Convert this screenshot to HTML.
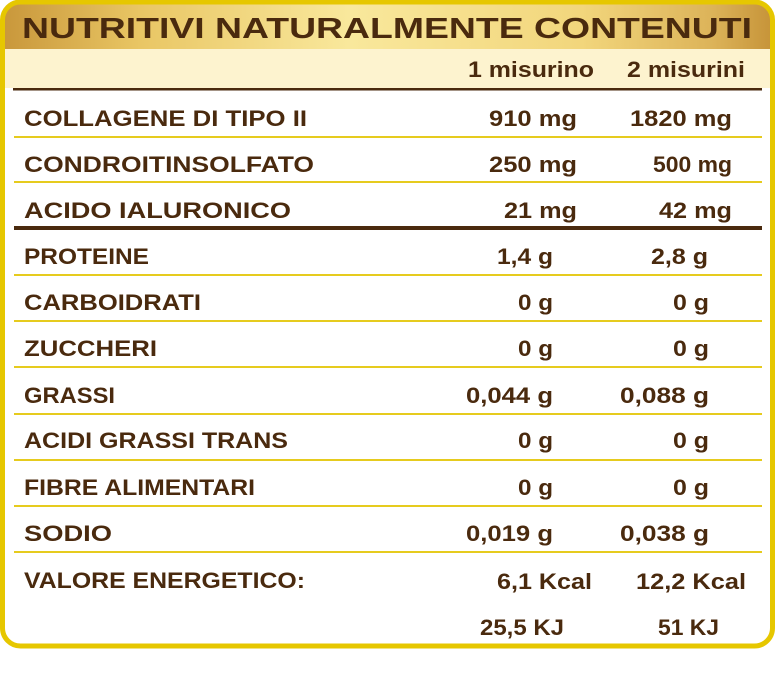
<!DOCTYPE html>
<html>
<head>
<meta charset="utf-8">
<style>
  html,body{margin:0;padding:0;background:#ffffff;}
  body{width:775px;height:699px;overflow:hidden;}
  svg{display:block;}
  text{font-family:"Liberation Sans", Arial, sans-serif;font-weight:bold;fill:#4a2a0e;}
</style>
</head>
<body>
<svg width="775" height="699" viewBox="0 0 775 699" xmlns="http://www.w3.org/2000/svg">
  <defs>
    <linearGradient id="gold" x1="0" y1="0" x2="1" y2="0">
      <stop offset="0" stop-color="#c8963a"/>
      <stop offset="0.18" stop-color="#e9c664"/>
      <stop offset="0.45" stop-color="#f9e89c"/>
      <stop offset="0.75" stop-color="#f2d67c"/>
      <stop offset="0.92" stop-color="#dcb359"/>
      <stop offset="1" stop-color="#c59237"/>
    </linearGradient>
    <clipPath id="box">
      <rect x="2.5" y="2" width="770" height="644" rx="18" ry="18"/>
    </clipPath>
  </defs>

  <rect x="2.5" y="2" width="770" height="644" rx="18" ry="18" fill="#ffffff"/>
  <g clip-path="url(#box)">
    <rect x="0" y="0" width="775" height="49" fill="url(#gold)"/>
    <rect x="0" y="49" width="775" height="39" fill="#fdf3cf"/>
  </g>
  <rect x="2.5" y="2" width="770" height="644" rx="18" ry="18" fill="none" stroke="#e6c700" stroke-width="5"/>

  <!-- title -->
  <text x="22" y="38" font-size="29" textLength="730" lengthAdjust="spacingAndGlyphs">NUTRITIVI NATURALMENTE CONTENUTI</text>

  <!-- header -->
  <text x="468" y="77" font-size="22" textLength="126" lengthAdjust="spacingAndGlyphs">1 misurino</text>
  <text x="627" y="77" font-size="22" textLength="118" lengthAdjust="spacingAndGlyphs">2 misurini</text>

  <!-- lines -->
  <rect x="13" y="88" width="749" height="2.5" fill="#4a2a0e"/>
  <g fill="#e6cb1e">
    <rect x="14" y="136" width="748" height="2"/>
    <rect x="14" y="181" width="748" height="2"/>
    <rect x="14" y="274" width="748" height="2"/>
    <rect x="14" y="320" width="748" height="2"/>
    <rect x="14" y="366" width="748" height="2"/>
    <rect x="14" y="413" width="748" height="2"/>
    <rect x="14" y="459" width="748" height="2"/>
    <rect x="14" y="505" width="748" height="2"/>
    <rect x="14" y="551" width="748" height="2"/>
  </g>
  <rect x="14" y="226" width="748" height="4" fill="#4a2a0e"/>

  <!-- labels -->
  <g font-size="22">
    <text x="24" y="126" textLength="283" lengthAdjust="spacingAndGlyphs">COLLAGENE DI TIPO II</text>
    <text x="24" y="172" textLength="290" lengthAdjust="spacingAndGlyphs">CONDROITINSOLFATO</text>
    <text x="24" y="218" textLength="267" lengthAdjust="spacingAndGlyphs">ACIDO IALURONICO</text>
    <text x="24" y="264" textLength="125" lengthAdjust="spacingAndGlyphs">PROTEINE</text>
    <text x="24" y="310" textLength="177" lengthAdjust="spacingAndGlyphs">CARBOIDRATI</text>
    <text x="24" y="356" textLength="133" lengthAdjust="spacingAndGlyphs">ZUCCHERI</text>
    <text x="24" y="403" textLength="91" lengthAdjust="spacingAndGlyphs">GRASSI</text>
    <text x="24" y="448" textLength="264" lengthAdjust="spacingAndGlyphs">ACIDI GRASSI TRANS</text>
    <text x="24" y="495" textLength="231" lengthAdjust="spacingAndGlyphs">FIBRE ALIMENTARI</text>
    <text x="24" y="541" textLength="88" lengthAdjust="spacingAndGlyphs">SODIO</text>
    <text x="24" y="588" textLength="281" lengthAdjust="spacingAndGlyphs">VALORE ENERGETICO:</text>
  </g>

  <!-- values column 1 -->
  <g font-size="22">
    <text x="489" y="126" textLength="88" lengthAdjust="spacingAndGlyphs">910 mg</text>
    <text x="489" y="172" textLength="88" lengthAdjust="spacingAndGlyphs">250 mg</text>
    <text x="504" y="218" textLength="73" lengthAdjust="spacingAndGlyphs">21 mg</text>
    <text x="497" y="264" textLength="56" lengthAdjust="spacingAndGlyphs">1,4 g</text>
    <text x="518" y="310" textLength="35" lengthAdjust="spacingAndGlyphs">0 g</text>
    <text x="518" y="356" textLength="35" lengthAdjust="spacingAndGlyphs">0 g</text>
    <text x="466" y="403" textLength="87" lengthAdjust="spacingAndGlyphs">0,044 g</text>
    <text x="518" y="448" textLength="35" lengthAdjust="spacingAndGlyphs">0 g</text>
    <text x="518" y="495" textLength="35" lengthAdjust="spacingAndGlyphs">0 g</text>
    <text x="466" y="541" textLength="87" lengthAdjust="spacingAndGlyphs">0,019 g</text>
    <text x="497" y="589" textLength="95" lengthAdjust="spacingAndGlyphs">6,1 Kcal</text>
    <text x="480" y="635" textLength="84" lengthAdjust="spacingAndGlyphs">25,5 KJ</text>
  </g>

  <!-- values column 2 -->
  <g font-size="22">
    <text x="630" y="126" textLength="102" lengthAdjust="spacingAndGlyphs">1820 mg</text>
    <text x="653" y="172" textLength="79" lengthAdjust="spacingAndGlyphs">500 mg</text>
    <text x="659" y="218" textLength="73" lengthAdjust="spacingAndGlyphs">42 mg</text>
    <text x="651" y="264" textLength="57" lengthAdjust="spacingAndGlyphs">2,8 g</text>
    <text x="673" y="310" textLength="36" lengthAdjust="spacingAndGlyphs">0 g</text>
    <text x="673" y="356" textLength="36" lengthAdjust="spacingAndGlyphs">0 g</text>
    <text x="620" y="403" textLength="89" lengthAdjust="spacingAndGlyphs">0,088 g</text>
    <text x="673" y="448" textLength="36" lengthAdjust="spacingAndGlyphs">0 g</text>
    <text x="673" y="495" textLength="36" lengthAdjust="spacingAndGlyphs">0 g</text>
    <text x="620" y="541" textLength="89" lengthAdjust="spacingAndGlyphs">0,038 g</text>
    <text x="636" y="589" textLength="110" lengthAdjust="spacingAndGlyphs">12,2 Kcal</text>
    <text x="658" y="635" textLength="61" lengthAdjust="spacingAndGlyphs">51 KJ</text>
  </g>
</svg>
</body>
</html>
